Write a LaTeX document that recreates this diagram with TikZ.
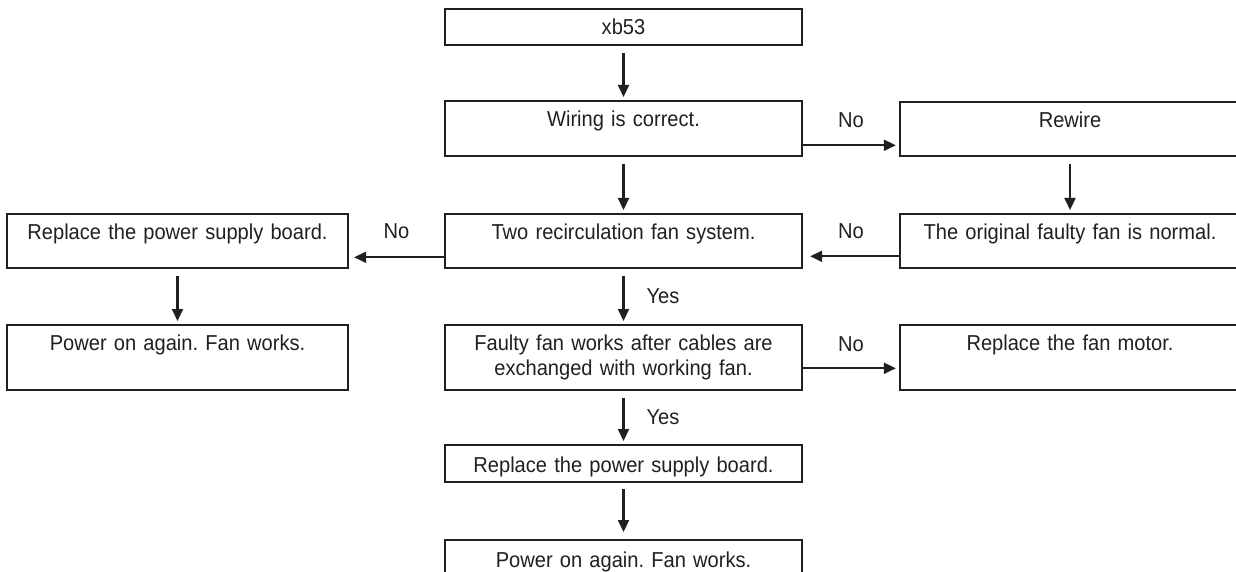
\documentclass[tikz,border=0pt]{standalone}
\usepackage{fontspec}
\setmainfont[FakeStretch=0.93]{Liberation Sans}
\usetikzlibrary{arrows.meta}
\definecolor{ink}{HTML}{231F20}
\frenchspacing
\begin{document}
\begin{tikzpicture}[x=0.5pt,y=-0.5pt,
  box/.style={draw=ink, line width=1.15pt, inner xsep=0pt, inner ysep=0pt, anchor=north,
    align=center, text=ink, font=\fontsize{10.8}{12.5}\selectfont, text height=12.5pt},
  cw/.style={text width=178.5pt},
  lw/.style={text width=170.5pt},
  rw/.style={text width=170pt},
  arr/.style={draw=ink, line width=1.05pt, -{Triangle[length=6pt,width=5.5pt]}},
  lab/.style={text=ink, font=\fontsize{10.8}{12}\selectfont, inner sep=0pt}]
\path[use as bounding box, clip] (0,0) rectangle (1236,572);

\node[box,cw,text depth=5.5pt] (start) at (623.5,8) {xb53};
\node[box,cw,text depth=15pt] (wiring) at (623.5,100) {Wiring is correct.};
\node[box,rw,text depth=14.5pt] (rewire) at (1070,101) {Rewire};
\node[box,cw,text depth=14.5pt] (two) at (623.5,213) {Two recirculation fan system.};
\node[box,rw,text depth=14.5pt] (orig) at (1070,213) {The original faulty fan is normal.};
\node[box,lw,text depth=14.5pt] (repA) at (177.5,213) {Replace the power supply board.};
\node[box,lw,text depth=20pt] (powA) at (177.5,324) {Power on again. Fan works.};
\node[box,cw,text depth=20pt] (faulty) at (623.5,324) {Faulty fan works after cables are\\exchanged with working fan.};
\node[box,rw,text depth=20pt] (motor) at (1070,324) {Replace the fan motor.};
\node[box,cw,text height=13.5pt,text depth=5pt] (repB) at (623.5,444) {Replace the power supply board.};
\node[box,cw,text height=13.5pt,text depth=5pt] (powB) at (623.5,539) {Power on again. Fan works.};

\draw[arr, shorten <=3.5pt, shorten >=1.5pt] (start.south) -- (wiring.north);
\draw[arr, shorten <=3.5pt, shorten >=1.5pt] (wiring.south) -- (two.north);
\draw[arr, shorten <=3.5pt, shorten >=1.5pt] (rewire.south) -- (orig.north);
\draw[arr, shorten <=3.5pt, shorten >=1.5pt] (repA.south) -- (powA.north);
\draw[arr, shorten <=3.5pt, shorten >=1.5pt] (two.south) -- node[lab, anchor=west, xshift=11pt] {Yes} (faulty.north);
\draw[arr, shorten <=3.5pt, shorten >=1.5pt] (faulty.south) -- node[lab, anchor=west, xshift=11pt] {Yes} (repB.north);
\draw[arr, shorten <=3pt, shorten >=3.5pt] (repB.south) -- (powB.north);

\draw[arr, shorten >=1.5pt] ([yshift=6pt]wiring.south east) -- node[lab, yshift=12.5pt] {No} ([yshift=6pt]rewire.south west);
\draw[arr, shorten >=3.5pt] ([yshift=6.5pt]orig.south west) -- node[lab, yshift=12.5pt] {No} ([yshift=6.5pt]two.south east);
\draw[arr, shorten >=2.5pt] ([yshift=6pt]two.south west) -- node[lab, yshift=13pt] {No} ([yshift=6pt]repA.south east);
\draw[arr, shorten >=1.5pt] ([yshift=11.5pt]faulty.south east) -- node[lab, yshift=12pt] {No} ([yshift=11.5pt]motor.south west);
\end{tikzpicture}
\end{document}
